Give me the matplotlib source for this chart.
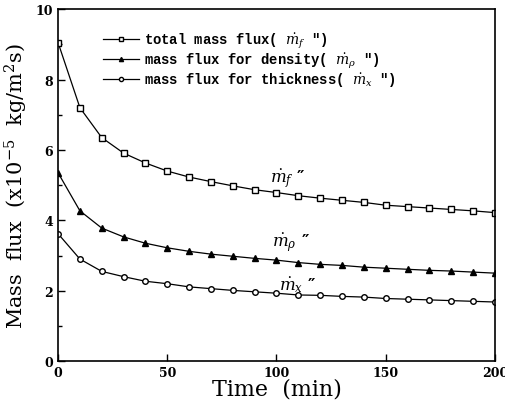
import numpy as np
import matplotlib
matplotlib.use("Agg")
import matplotlib.pyplot as plt
from matplotlib.ticker import MultipleLocator

plt.rcParams['font.family'] = ['DejaVu Serif']
plt.rcParams['mathtext.fontset'] = 'dejavuserif'

# time (min)
time = [0, 10, 20, 30, 40, 50, 60, 70, 80, 90, 100,
        110, 120, 130, 140, 150, 160, 170, 180, 190, 200]

# mass flux, x1e-5 kg/m^2 s
total_flux = [9.05, 7.2, 6.35, 5.91, 5.63, 5.40, 5.23, 5.10, 4.98, 4.87, 4.79,
              4.70, 4.63, 4.57, 4.51, 4.43, 4.39, 4.35, 4.31, 4.27, 4.22]
density_flux = [5.35, 4.27, 3.78, 3.53, 3.35, 3.22, 3.12, 3.04, 2.98, 2.92, 2.87,
                2.80, 2.75, 2.72, 2.67, 2.64, 2.61, 2.58, 2.56, 2.53, 2.50]
thick_flux = [3.62, 2.90, 2.55, 2.40, 2.27, 2.20, 2.11, 2.06, 2.01, 1.97, 1.93,
              1.88, 1.87, 1.84, 1.82, 1.78, 1.76, 1.74, 1.72, 1.70, 1.68]

labels = ["total mass flux( $\\dot{m}_f$ \u2033)",
          "mass flux for density( $\\dot{m}_\\rho$ \u2033)",
          "mass flux for thickness( $\\dot{m}_x$ \u2033)"]

fig = plt.figure(figsize=(5.05, 4.06), dpi=100)
ax = fig.add_axes([0.115, 0.108, 0.865, 0.867])

ax.plot(time, total_flux, color='black', lw=0.9, marker='s', ms=4,
        mfc='white', mec='black', mew=1.0, label=labels[0])
ax.plot(time, density_flux, color='black', lw=0.9, marker='^', ms=4,
        mfc='black', mec='black', label=labels[1])
ax.plot(time, thick_flux, color='black', lw=0.9, marker='o', ms=4,
        mfc='white', mec='black', mew=1.0, label=labels[2])

# curve labels
ax.text(97, 5.1, "$\\dot{m}_f$ \u2033", fontsize=12, fontweight='bold')
ax.text(98, 3.3, "$\\dot{m}_\\rho$ \u2033", fontsize=12, fontweight='bold')
ax.text(101, 2.05, "$\\dot{m}_x$ \u2033", fontsize=12, fontweight='bold')

ax.set_xlim(0, 200)
ax.set_ylim(0, 10)
ax.xaxis.set_major_locator(MultipleLocator(50))
ax.yaxis.set_major_locator(MultipleLocator(2))
ax.yaxis.set_minor_locator(MultipleLocator(1))
ax.tick_params(direction='in', which='both', labelsize=9, width=1)
ax.tick_params(which='major', length=5)
ax.tick_params(which='minor', length=3)
for lab in ax.get_xticklabels() + ax.get_yticklabels():
    lab.set_fontweight('bold')
for s in ax.spines.values():
    s.set_linewidth(1.2)

ax.set_xlabel("Time  (min)", fontsize=16, labelpad=-1)
ax.set_ylabel("Mass  flux  (x10$^{-5}$  kg/m$^2$s)", fontsize=15, labelpad=4)

leg = ax.legend(loc='upper left', bbox_to_anchor=(0.075, 0.975), frameon=False,
                handlelength=2.6, handletextpad=0.3, labelspacing=0.0,
                prop={'family': 'Liberation Mono', 'size': 10, 'weight': 'bold'},
                markerscale=0.75)

fig.savefig("out.png", dpi=100)
